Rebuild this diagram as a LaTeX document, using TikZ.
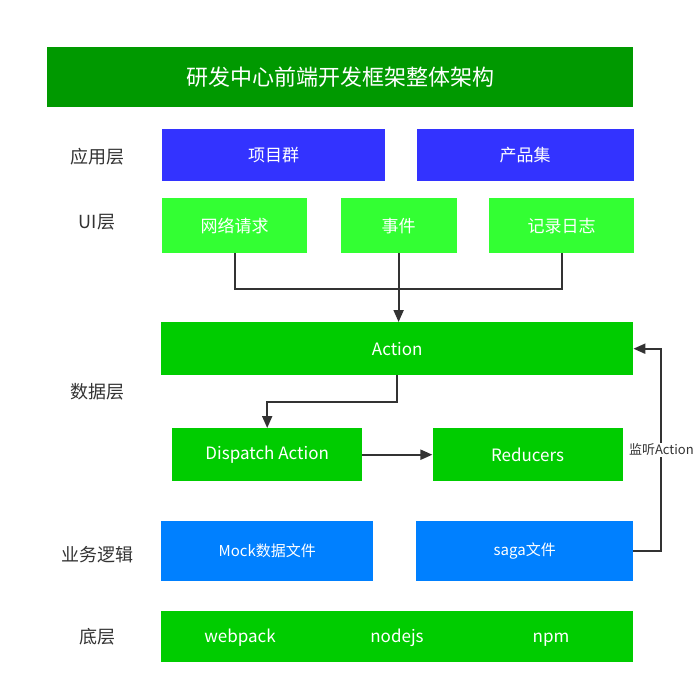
\documentclass[tikz,border=0pt]{standalone}
\usepackage{fontspec}
\setmainfont{Noto Sans CJK SC}
\usetikzlibrary{arrows.meta,positioning,calc}
\definecolor{titlegreen}{RGB}{0,153,0}
\definecolor{appblue}{RGB}{51,51,255}
\definecolor{uigreen}{RGB}{51,255,51}
\definecolor{datagreen}{RGB}{0,204,0}
\definecolor{logicblue}{RGB}{0,128,255}
\definecolor{linegray}{RGB}{51,51,51}

\begin{document}
\begin{tikzpicture}[
    x=1pt,y=-1pt,
    box/.style={rectangle,anchor=north west,inner sep=0pt,text=white,font=\fontsize{17}{19}\selectfont},
    layer/.style={font=\fontsize{18}{20}\selectfont,text=linegray},
    link/.style={draw=linegray,line width=2pt},
    arrow/.style={link,-{Triangle[length=12pt,width=10pt]}}
]
    \fill[white] (0,0) rectangle (694,694);
    \useasboundingbox (0,0) rectangle (694,694);

    % title
    \node[box,fill=titlegreen,minimum width=586pt,minimum height=60pt,font=\fontsize{22}{26}\selectfont] (title) at (47,47) {研发中心前端开发框架整体架构};

    % layer names
    \node[layer] (lapp) at (97,157) {应用层};
    \node[layer] (lui) at (97,222) {UI层};
    \node[layer] (ldata) at (97,392) {数据层};
    \node[layer] (llogic) at (97,555) {业务逻辑};
    \node[layer] (lbase) at (97,637) {底层};

    % application layer
    \node[box,fill=appblue,minimum width=223pt,minimum height=52pt] (proj) at (162,129) {项目群};
    \node[box,fill=appblue,minimum width=217pt,minimum height=52pt,right=31pt of proj] (prod) {产品集};

    % UI layer
    \node[box,fill=uigreen,minimum width=145pt,minimum height=55pt] (net) at (162,198) {网络请求};
    \node[box,fill=uigreen,minimum width=116pt,minimum height=55pt,right=33pt of net] (event) {事件};
    \node[box,fill=uigreen,minimum width=145pt,minimum height=55pt,right=32pt of event] (log) {记录日志};

    % data layer
    \node[box,fill=datagreen,minimum width=472pt,minimum height=53pt] (action) at (161,322) {Action};
    \node[box,fill=datagreen,minimum width=190pt,minimum height=53pt] (dispatch) at (172,428) {Dispatch Action};
    \node[box,fill=datagreen,minimum width=190pt,minimum height=53pt,right=70pt of dispatch] (reducer) {Reducers};

    % business logic
    \node[box,fill=logicblue,minimum width=212pt,minimum height=60pt,font=\fontsize{15}{18}\selectfont] (mock) at (161,521) {Mock数据文件};
    \node[box,fill=logicblue,minimum width=217pt,minimum height=60pt,font=\fontsize{15}{18}\selectfont] (saga) at (416,521) {saga文件};

    % base layer
    \node[box,fill=datagreen,minimum width=472pt,minimum height=51pt] (base) at (161,611) {};
    \node[box,anchor=base] (webpack) at (240,642) {webpack};
    \node[box,anchor=base] (nodejs) at (397,642) {nodejs};
    \node[box,anchor=base] (npm) at (551,642) {npm};

    % connectors
    \coordinate (join) at (397,289);
    \draw[link] (net.south) |- (join) -| (log.south);
    \draw[arrow] (event.south) -- (event.south |- action.north);
    \draw[arrow] (action.south) -- ++(0,27) -| (dispatch.north);
    \draw[arrow] (dispatch) -- (reducer);
    \draw[arrow] (saga.east) -- ++(28,0) |- (action.east)
        node[pos=0.25,fill=white,inner sep=1pt,text=linegray,font=\fontsize{13}{15}\selectfont] (listen) {监听Action};
\end{tikzpicture}
\end{document}
